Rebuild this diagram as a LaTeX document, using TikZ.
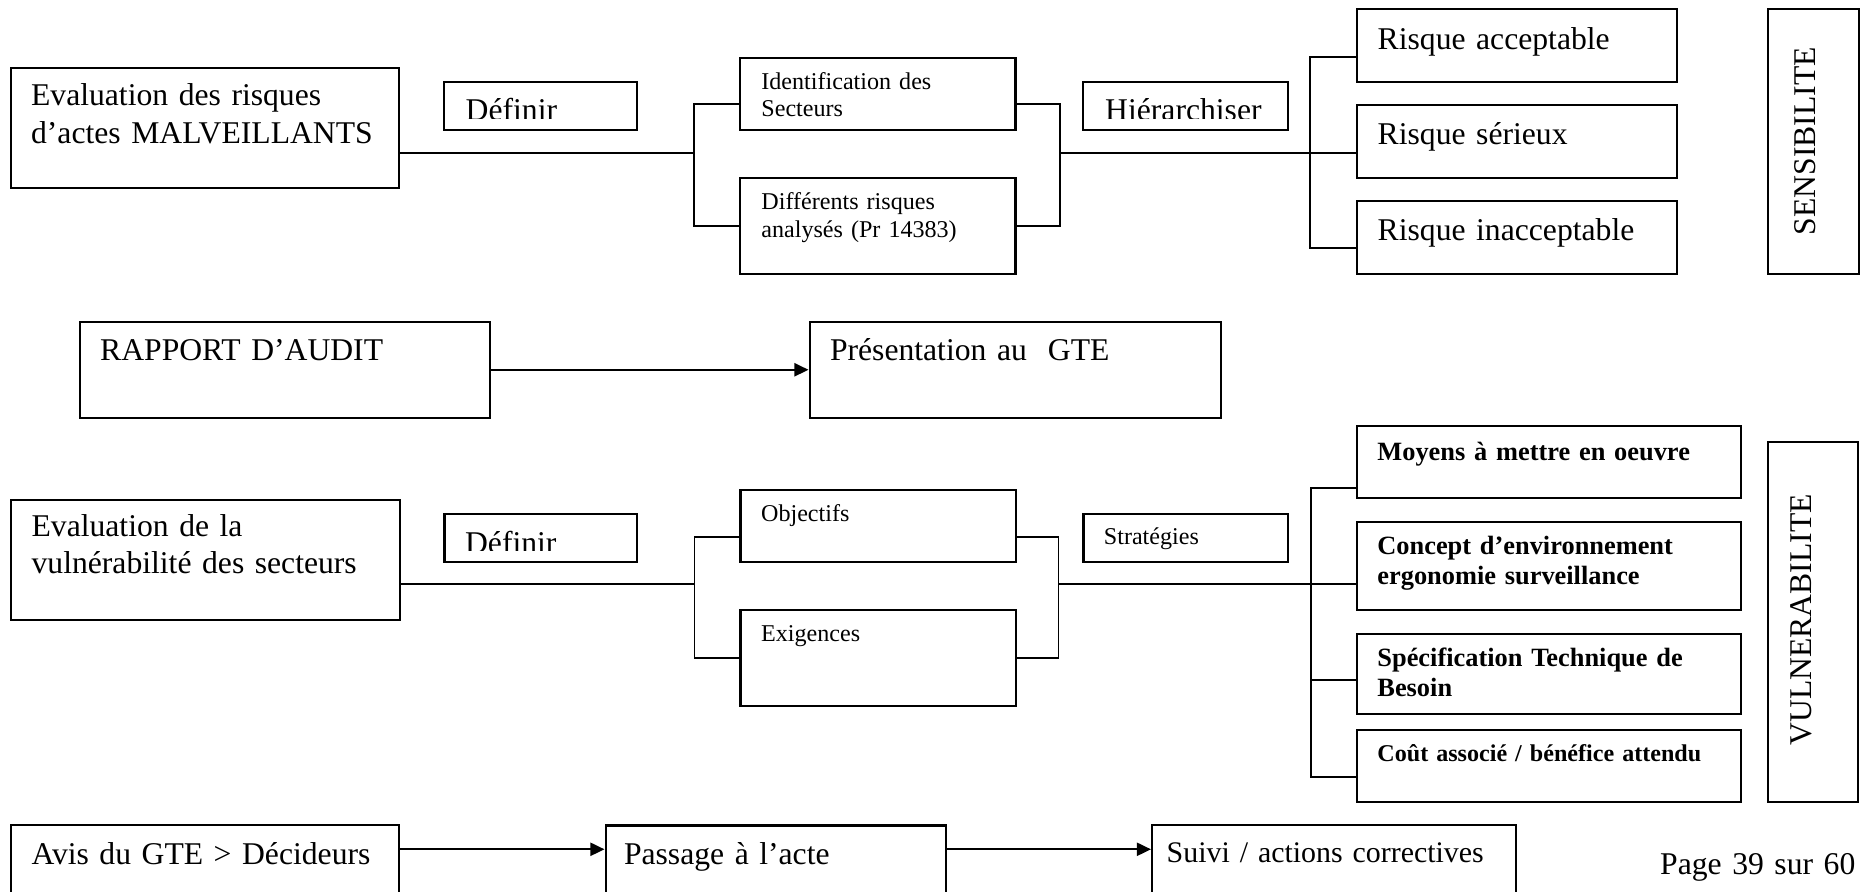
\documentclass[tikz,border=0pt]{standalone}
\usepackage{fontspec}
\setmainfont{Liberation Serif}
\usetikzlibrary{arrows.meta}

\begin{document}
\begin{tikzpicture}[x=0.01cm, y=-0.01cm,
    box/.style={draw, line width=0.6pt, anchor=north west, inner sep=0pt},
    lbig/.style={anchor=base west, inner sep=0pt, align=left, text width=5cm, font=\fontsize{9}{10.6}\selectfont},
    lsmall/.style={lbig, font=\fontsize{6.85}{7.8}\selectfont},
    lbold/.style={lbig, font=\bfseries\fontsize{7.5}{8.5}\selectfont},
    lvert/.style={rotate=90, inner sep=0pt, font=\fontsize{9}{10.6}\selectfont},
    link/.style={line width=0.5pt},
    flow/.style={line width=0.6pt, -{Triangle[length=4pt,width=3.7pt]}}]
    \useasboundingbox (0,0) rectangle (1861,892);
    \clip (0,0) rectangle (1861,892);

    \node[box, minimum width=3.882cm, minimum height=1.2cm] (evalR) at (9.8,66.7) {};
    \node[box, minimum width=1.933cm, minimum height=0.483cm] (defR) at (442.7,80.7) {};
    \node[box, minimum width=2.75cm, minimum height=0.72cm] (ident) at (739.3,56.7) {};
    \node[box, minimum width=2.75cm, minimum height=0.96cm] (diff) at (739.3,176.7) {};
    \node[box, minimum width=2.05cm, minimum height=0.483cm] (hier) at (1082.2,80.7) {};
    \node[box, minimum width=3.202cm, minimum height=0.724cm] (risk1) at (1355.5,8.3) {};
    \node[box, minimum width=3.202cm, minimum height=0.724cm] (risk2) at (1355.5,104.3) {};
    \node[box, minimum width=3.202cm, minimum height=0.724cm] (risk3) at (1355.5,200.3) {};
    \node[box, minimum width=0.918cm, minimum height=2.644cm] (sens) at (1766.5,8.3) {};

    \node[box, minimum width=4.102cm, minimum height=0.96cm] (rapport) at (78.8,320.7) {};
    \node[box, minimum width=4.108cm, minimum height=0.96cm] (pres) at (808.5,320.7) {};

    \node[box, minimum width=3.887cm, minimum height=1.2cm] (evalV) at (9.8,499) {};
    \node[box, minimum width=1.922cm, minimum height=0.483cm] (defV) at (443.4,513) {};
    \node[box, minimum width=2.75cm, minimum height=0.726cm] (obj) at (739.4,488.7) {};
    \node[box, minimum width=2.75cm, minimum height=0.963cm] (exig) at (739.4,609) {};
    \node[box, minimum width=2.048cm, minimum height=0.486cm] (strat) at (1082.4,512.7) {};
    \node[box, minimum width=3.838cm, minimum height=0.723cm] (moy) at (1355.9,424.7) {};
    \node[box, minimum width=3.838cm, minimum height=0.883cm] (concept) at (1355.9,520.7) {};
    \node[box, minimum width=3.838cm, minimum height=0.8cm] (spec) at (1355.9,632.7) {};
    \node[box, minimum width=3.838cm, minimum height=0.723cm] (cout) at (1355.9,728.7) {};
    \node[box, minimum width=0.906cm, minimum height=3.603cm] (vuln) at (1766.6,440.7) {};

    \node[box, minimum width=3.881cm, minimum height=1.2cm] (avis) at (9.5,824.3) {};
    \node[box, minimum width=3.406cm, minimum height=1.2cm] (pass) at (604.5,824.5) {};
    \node[box, minimum width=3.638cm, minimum height=1.2cm] (suivi) at (1151,824.3) {};

    \node[lbig] (tEvalR) at (30.4,106) {Evaluation des risques\\d’actes MALVEILLANTS};
    \begin{scope}
        \clip (defR.north west) rectangle ++(193.3,37.6);
        \node[lbig] (tDefR) at (465,120.8) {Définir};
    \end{scope}
    \node[lsmall] (tIdent) at (760.7,89.3) {Identification des\\Secteurs};
    \node[lsmall] (tDiff) at (760.7,210) {Différents risques\\analysés (Pr 14383)};
    \begin{scope}
        \clip (hier.north west) rectangle ++(205,37.6);
        \node[lbig] (tHier) at (1104.5,120.8) {Hiérarchiser};
    \end{scope}
    \node[lbig] (tRisk1) at (1377,49.3) {Risque acceptable};
    \node[lbig] (tRisk2) at (1377,145) {Risque sérieux};
    \node[lbig] (tRisk3) at (1377,240.7) {Risque inacceptable};
    \node[lvert] (tSens) at (1805.5,141) {SENSIBILITE};

    \node[lbig] (tRapport) at (99.5,361) {RAPPORT D’AUDIT};
    \node[lbig] (tPres) at (829.3,361) {Présentation au~~GTE};

    \node[lbig] (tEvalV) at (30.9,536.7) {Evaluation de la\\vulnérabilité des secteurs};
    \begin{scope}
        \clip (defV.north west) rectangle ++(192.2,37.7);
        \node[lbig] (tDefV) at (464.4,553.5) {Définir};
    \end{scope}
    \node[lsmall] (tObj) at (760.4,521.7) {Objectifs};
    \node[lsmall] (tExig) at (760.4,641.7) {Exigences};
    \node[lsmall] (tStrat) at (1103.2,545) {Stratégies};
    \node[lbold] (tMoy) at (1376.7,460.7) {Moyens à mettre en oeuvre};
    \node[lbold] (tConcept) at (1376.7,555) {Concept d’environnement\\ergonomie surveillance};
    \node[lbold] (tSpec) at (1376.7,666.7) {Spécification Technique de\\Besoin};
    \node[lbold, font=\bfseries\fontsize{6.85}{7.8}\selectfont] (tCout) at (1376.7,761.7) {Coût associé / bénéfice attendu};
    \node[lvert] (tVuln) at (1801.7,620) {VULNERABILITE};

    \node[lbig] (tAvis) at (30.8,864.3) {Avis du GTE > Décideurs};
    \node[lbig] (tPass) at (623.3,864.3) {Passage à l’acte};
    \node[lbig, font=\fontsize{8.5}{10}\selectfont] (tSuivi) at (1166,862) {Suivi / actions correctives};
    \node[lbig] (tPage) at (1659.5,874) {Page 39 sur 60};

    \coordinate (jm1) at (694.2,152.7);
    \coordinate (lt1) at (694.2,104.3);
    \coordinate (rt1) at (1059.8,104.3);
    \coordinate (kt1) at (1310,56.7);
    \coordinate (kb1) at (1310,248.3);
    \draw[link] (evalR.east |- jm1) -- (jm1);
    \draw[link] (ident.west |- lt1) -| (diff.west -| lt1) -- (diff.west);
    \draw[link] (ident.east |- rt1) -| (diff.east -| rt1) -- (diff.east);
    \draw[link] (rt1 |- jm1) -- (risk2.west |- jm1);
    \draw[link] (risk1.west |- kt1) -- (kt1) -- (kb1) -- (risk3.west |- kb1);

    \draw[flow] (rapport) -- (pres);

    \coordinate (jm3) at (694.5,584.3);
    \coordinate (lt3) at (694.5,536.7);
    \coordinate (rt3) at (1058.6,536.7);
    \coordinate (kt3) at (1310.8,488.3);
    \coordinate (ks3) at (1310.8,680.3);
    \coordinate (kb3) at (1310.8,776.7);
    \draw[link] (evalV.east |- jm3) -- (jm3);
    \draw[link] (obj.west |- lt3) -| (exig.west -| lt3) -- (exig.west);
    \draw[link] (obj.east |- rt3) -| (exig.east -| rt3) -- (exig.east);
    \draw[link] (rt3 |- jm3) -- (concept.west |- jm3);
    \draw[link] (moy.west |- kt3) -- (kt3) -- (kb3) -- (cout.west |- kb3);
    \draw[link] (ks3) -- (spec.west |- ks3);

    \coordinate (ja5) at (0,849.3);
    \draw[flow] (avis.east |- ja5) -- (pass.west |- ja5);
    \draw[flow] (pass.east |- ja5) -- (suivi.west |- ja5);
\end{tikzpicture}
\end{document}
